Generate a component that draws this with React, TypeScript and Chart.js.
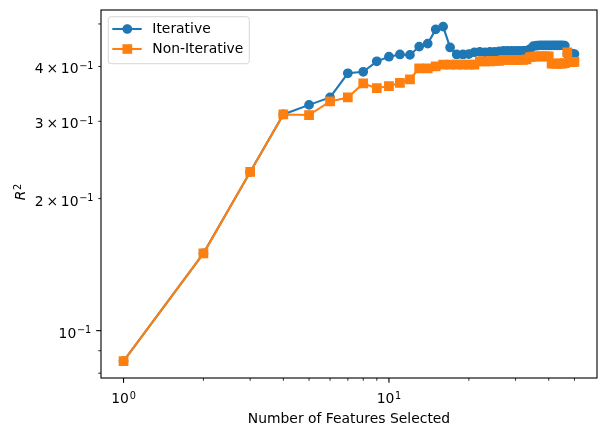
import React, { useEffect, useRef } from 'react';
import { Chart, registerables } from 'chart.js';

Chart.register(...registerables);

// ---- data ----
const features = [
  1, 2, 3, 4, 5, 6, 7, 8, 9, 10,
  11, 12, 13, 14, 15, 16, 17, 18, 19, 20,
  21, 22, 23, 24, 25, 26, 27, 28, 29, 30,
  31, 32, 33, 34, 35, 36, 37, 38, 39, 40,
  41, 42, 43, 44, 45, 46, 47, 48, 49, 50,
];

const iterative = [
  0.0852, 0.150, 0.230, 0.311, 0.327, 0.340, 0.386, 0.389, 0.411, 0.421,
  0.426, 0.425, 0.444, 0.451, 0.486, 0.493, 0.442, 0.426, 0.426, 0.427,
  0.431, 0.432, 0.431, 0.432, 0.432, 0.433, 0.434, 0.434, 0.434, 0.434,
  0.434, 0.434, 0.435, 0.438, 0.445, 0.446, 0.447, 0.447, 0.447, 0.447,
  0.447, 0.447, 0.447, 0.447, 0.447, 0.446, 0.427, 0.427, 0.428, 0.427,
];

const nonIterative = [
  0.0852, 0.150, 0.230, 0.311, 0.310, 0.333, 0.340, 0.366, 0.357, 0.361,
  0.367, 0.374, 0.396, 0.396, 0.400, 0.404, 0.404, 0.404, 0.404, 0.404,
  0.404, 0.411, 0.411, 0.411, 0.412, 0.412, 0.414, 0.414, 0.414, 0.414,
  0.414, 0.414, 0.415, 0.420, 0.421, 0.422, 0.422, 0.422, 0.422, 0.422,
  0.406, 0.406, 0.406, 0.406, 0.406, 0.407, 0.431, 0.409, 0.410, 0.410,
];

const seriesLabels = ['Iterative', 'Non-Iterative'];

const xTickValues = [1, 2, 3, 4, 5, 6, 7, 8, 9, 10, 20, 30, 40, 50];
const xTickMantissa = ['10', '', '', '', '', '', '', '', '', '10', '', '', '', ''];
const xTickExponent = ['0', '', '', '', '', '', '', '', '', '1', '', '', '', ''];

const yTickValues = [0.08, 0.09, 0.1, 0.2, 0.3, 0.4, 0.5];
const yTickMantissa = ['', '', '10', '2\u2009\u00D7\u200910', '3\u2009\u00D7\u200910', '4\u2009\u00D7\u200910', ''];
const yTickExponent = ['', '', '\u22121', '\u22121', '\u22121', '\u22121', ''];

const xAxisTitle = 'Number of Features Selected';
const yAxisTitleBase = 'R';
const yAxisTitleExp = '2';

// ---- style ----
const BLUE = '#1f77b4';
const ORANGE = '#ff7f0e';
const FONT = "'DejaVu Sans', sans-serif";
const FS = 13.9;
const SUP = FS * 0.7;
const RAISE = 4.5;

const isMajor = (v: number) => {
  const l = Math.log10(v);
  return Math.abs(l - Math.round(l)) < 1e-9;
};

function drawMath(
  ctx: CanvasRenderingContext2D, base: string, exp: string,
  x: number, baseline: number, align: 'center' | 'right' | 'left', italicBase = false,
) {
  const baseFont = `${italicBase ? 'italic ' : ''}${FS}px ${FONT}`;
  const expFont = `${SUP}px ${FONT}`;
  ctx.font = baseFont;
  const wb = ctx.measureText(base).width;
  ctx.font = expFont;
  const we = exp ? ctx.measureText(exp).width : 0;
  const gap = exp ? 0.7 : 0;
  const total = wb + gap + we;
  let start = x;
  if (align === 'center') start = x - total / 2;
  else if (align === 'right') start = x - total;
  ctx.textAlign = 'left';
  ctx.textBaseline = 'alphabetic';
  ctx.fillStyle = '#000';
  ctx.font = baseFont;
  ctx.fillText(base, start, baseline);
  if (exp) {
    ctx.font = expFont;
    ctx.fillText(exp, start + wb + gap, baseline - RAISE);
  }
}

function drawMarker(ctx: CanvasRenderingContext2D, kind: string, x: number, y: number, color: string) {
  ctx.save();
  ctx.fillStyle = color;
  ctx.strokeStyle = color;
  ctx.lineWidth = 1.39;
  ctx.beginPath();
  if (kind === 'circle') {
    ctx.arc(x, y, 4.17, 0, Math.PI * 2);
  } else {
    ctx.rect(x - 4.17, y - 4.17, 8.34, 8.34);
  }
  ctx.fill();
  ctx.stroke();
  ctx.restore();
}

const decorPlugin = {
  id: 'decor',
  afterDraw(chart: any) {
    const { ctx, chartArea: a, scales } = chart;
    ctx.save();
    ctx.strokeStyle = '#000';
    // x ticks + labels
    const xs = scales.x;
    xs.ticks.forEach((t: any, i: number) => {
      const major = isMajor(t.value);
      const len = major ? 4.86 : 2.78;
      const p = xs.getPixelForValue(t.value);
      ctx.strokeStyle = '#000';
      ctx.lineWidth = major ? 1.11 : 0.83;
      ctx.beginPath();
      ctx.moveTo(p, a.bottom);
      ctx.lineTo(p, a.bottom + len);
      ctx.stroke();
      if (xTickMantissa[i]) {
        drawMath(ctx, xTickMantissa[i], xTickExponent[i], p, a.bottom + 25.3, 'center');
      }
    });
    // y ticks + labels
    const ys = scales.y;
    ys.ticks.forEach((t: any, i: number) => {
      const major = isMajor(t.value);
      const len = major ? 4.86 : 2.78;
      const pad = major ? 4.86 : 4.72;
      const p = ys.getPixelForValue(t.value);
      ctx.strokeStyle = '#000';
      ctx.lineWidth = major ? 1.11 : 0.83;
      ctx.beginPath();
      ctx.moveTo(a.left, p);
      ctx.lineTo(a.left - len, p);
      ctx.stroke();
      if (yTickMantissa[i]) {
        drawMath(ctx, yTickMantissa[i], yTickExponent[i], a.left - len - pad, p + 7, 'right');
      }
    });
    // frame
    ctx.strokeStyle = '#000';
    ctx.lineWidth = 1.11;
    ctx.strokeRect(a.left, a.top, a.right - a.left, a.bottom - a.top);

    // y-axis title (rotated)
    ctx.save();
    ctx.translate(25, (a.top + a.bottom) / 2 - 2);
    ctx.rotate(-Math.PI / 2);
    drawMath(ctx, yAxisTitleBase, yAxisTitleExp, 0, 0, 'center', true);
    ctx.restore();

    // legend
    const lx = a.left + 7.3;
    const ly = a.top + 6.7;
    const w = 141;
    const h = 47;
    const r = 2.8;
    ctx.beginPath();
    ctx.moveTo(lx + r, ly);
    ctx.lineTo(lx + w - r, ly);
    ctx.arcTo(lx + w, ly, lx + w, ly + r, r);
    ctx.lineTo(lx + w, ly + h - r);
    ctx.arcTo(lx + w, ly + h, lx + w - r, ly + h, r);
    ctx.lineTo(lx + r, ly + h);
    ctx.arcTo(lx, ly + h, lx, ly + h - r, r);
    ctx.lineTo(lx, ly + r);
    ctx.arcTo(lx, ly, lx + r, ly, r);
    ctx.closePath();
    ctx.fillStyle = 'rgba(255,255,255,0.8)';
    ctx.fill();
    ctx.strokeStyle = 'rgba(204,204,204,0.8)';
    ctx.lineWidth = 1;
    ctx.stroke();

    const entries = [
      { label: seriesLabels[0], color: BLUE, kind: 'circle' },
      { label: seriesLabels[1], color: ORANGE, kind: 'rect' },
    ];
    entries.forEach((e, i) => {
      const cy = ly + 12.3 + i * 20;
      ctx.strokeStyle = e.color;
      ctx.lineWidth = 2.08;
      ctx.beginPath();
      ctx.moveTo(lx + 4, cy);
      ctx.lineTo(lx + 33.4, cy);
      ctx.stroke();
      drawMarker(ctx, e.kind, lx + 19, cy, e.color);
      ctx.fillStyle = '#000';
      ctx.font = `${FS}px ${FONT}`;
      ctx.textAlign = 'left';
      ctx.textBaseline = 'middle';
      ctx.fillText(e.label, lx + 44, cy + 0.5);
    });
    ctx.restore();
  },
};

export default function App() {
  const canvasRef = useRef<HTMLCanvasElement | null>(null);

  useEffect(() => {
    if (!canvasRef.current) return;
    Chart.defaults.font.family = FONT;
    Chart.defaults.font.size = FS;
    Chart.defaults.color = '#000';

    const chart = new Chart(canvasRef.current, {
      type: 'line',
      data: {
        datasets: [
          {
            label: seriesLabels[0],
            data: features.map((f, i) => ({ x: f, y: iterative[i] })),
            borderColor: BLUE,
            backgroundColor: BLUE,
            borderWidth: 2.08,
            pointStyle: 'circle',
            pointRadius: 4.17,
            pointBorderWidth: 1.39,
            pointBackgroundColor: BLUE,
            pointBorderColor: BLUE,
            tension: 0,
            order: 1,
          },
          {
            label: seriesLabels[1],
            data: features.map((f, i) => ({ x: f, y: nonIterative[i] })),
            borderColor: ORANGE,
            backgroundColor: ORANGE,
            borderWidth: 2.08,
            pointStyle: 'rect',
            pointRadius: 5.89,
            pointBorderWidth: 1.39,
            pointBackgroundColor: ORANGE,
            pointBorderColor: ORANGE,
            tension: 0,
            order: 0,
          },
        ],
      },
      options: {
        animation: false,
        responsive: true,
        maintainAspectRatio: false,
        parsing: false as any,
        layout: { padding: { left: 0, right: 9, top: 10, bottom: 0 } },
        plugins: {
          legend: { display: false },
          tooltip: { enabled: false },
        },
        scales: {
          x: {
            type: 'logarithmic',
            min: 0.8224,
            max: 60.8,
            grid: { display: false, drawTicks: false },
            border: { display: false },
            afterBuildTicks: (s: any) => {
              s.ticks = xTickValues.map((v) => ({ value: v }));
            },
            afterFit: (s: any) => {
              s.height = 59;
              s.paddingLeft = 0;
              s.paddingRight = 0;
            },
            ticks: {
              display: false,
              autoSkip: false,
              maxRotation: 0,
              minRotation: 0,
              callback: (_v: any, i: number) => xTickMantissa[i] + xTickExponent[i],
            },
            title: {
              display: true,
              text: xAxisTitle,
              color: '#000',
              padding: { top: 0, bottom: 9.2 },
            },
          },
          y: {
            type: 'logarithmic',
            min: 0.078,
            max: 0.538,
            grid: { display: false, drawTicks: false },
            border: { display: false },
            afterBuildTicks: (s: any) => {
              s.ticks = yTickValues.map((v) => ({ value: v }));
            },
            afterFit: (s: any) => {
              s.width = 101;
              s.paddingTop = 0;
              s.paddingBottom = 0;
            },
            ticks: {
              display: false,
              autoSkip: false,
              callback: (_v: any, i: number) => yTickMantissa[i] + yTickExponent[i],
            },
            title: { display: false },
          },
        },
      },
      plugins: [decorPlugin],
    } as any);

    return () => chart.destroy();
  }, []);

  return (
    <div style={{ position: 'fixed', left: 0, top: 0, width: 606, height: 437, background: '#fff' }}>
      <canvas ref={canvasRef} />
    </div>
  );
}
